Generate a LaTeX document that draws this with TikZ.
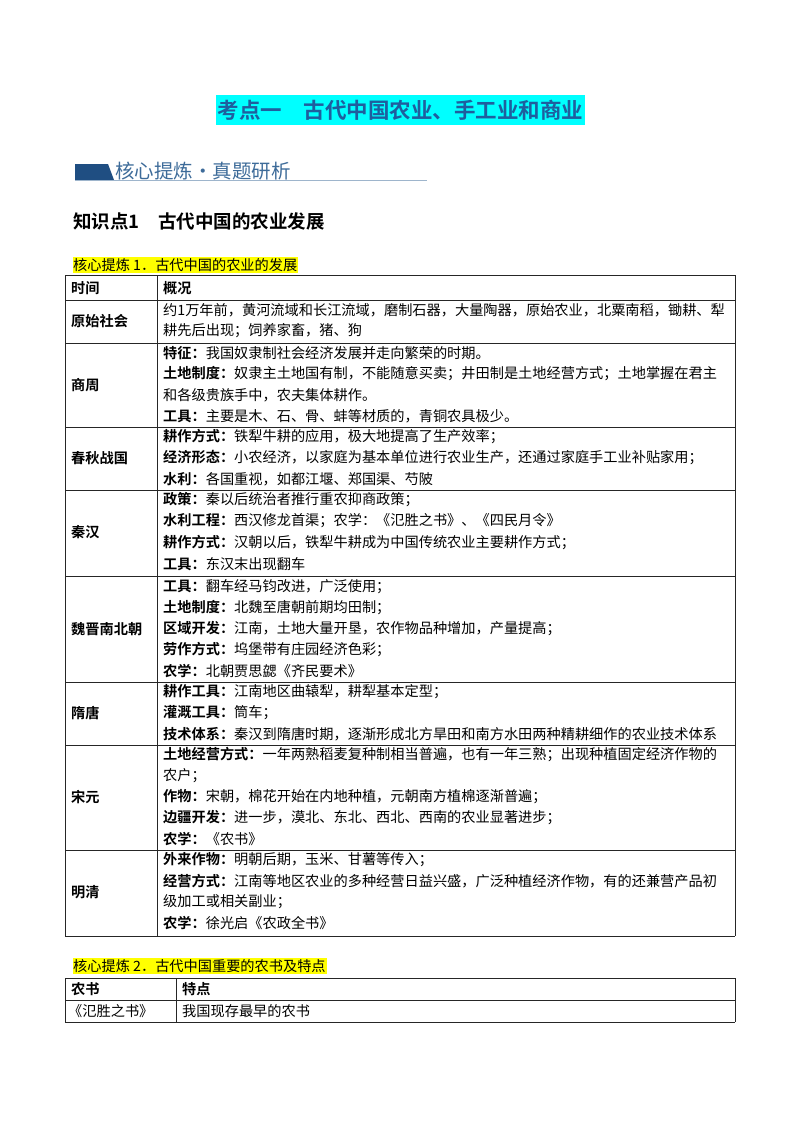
\documentclass[tikz,border=0pt]{standalone}
\usepackage{fontspec}
\setmainfont{Noto Sans CJK SC}[BoldFont={Noto Sans CJK SC Bold}]
\definecolor{ttl}{HTML}{1F5E9E}
\definecolor{hdr}{HTML}{3D6B99}
\definecolor{hbar}{HTML}{1F4E82}
\definecolor{hl}{HTML}{FFFF00}
\definecolor{cy}{HTML}{00FFFF}
\tikzset{txt/.style={anchor=west,inner sep=0pt,font=\fontsize{14.2}{16}\selectfont},
 stxt/.style={anchor=west,inner sep=0pt,font=\fontsize{14.2}{16}\selectfont},
 tl/.style={line width=0.8pt,draw=black!85}}
\newcommand\tl[2]{\node[txt] at (163,-#1) {#2};}
\begin{document}
\begin{tikzpicture}[x=1pt,y=1pt]
\useasboundingbox (0,0) rectangle (800,-1132);
\fill[white] (0,0) rectangle (800,-1132);
% title
\fill[cy] (216,-95) rectangle (585,-125);
\node[anchor=center,inner sep=0pt,text=ttl,font=\fontsize{21.5}{24}\selectfont\bfseries] (title) at (400.5,-110) {考点一\hspace{1em}古代中国农业、手工业和商业};
% section header
\fill[hbar] (75,-164) -- (108,-164) -- (114,-180) -- (75,-180) -- cycle;
\draw[draw=hdr!50,line width=1pt] (75,-180.5) -- (427,-180.5);
\node[anchor=west,inner sep=0pt,text=hdr,font=\fontsize{19.5}{22}\selectfont] (sec) at (115,-171) {核心提炼·真题研析};
\node[anchor=west,inner sep=0pt,font=\fontsize{18.5}{20}\selectfont\bfseries] (kp) at (73,-221) {知识点1\hspace{1em}古代中国的农业发展};
% highlight 1
\fill[hl] (73,-257) rectangle (298,-273);
\node[stxt] (h1) at (73,-265) {核心提炼 1．古代中国的农业的发展};
% table 1
\foreach \y in {275,300,343,427,490,576,682,745,850,936} \draw[tl] (65,-\y) -- (735,-\y);
\draw[tl] (65,-275) -- (65,-936); \draw[tl] (735,-275) -- (735,-936); \draw[tl] (157,-275) -- (157,-936);
\node[txt] at (71,-288) {\textbf{时间}}; \node[txt] at (163,-288) {\textbf{概况}};
\node[txt] at (71,-321) {\textbf{原始社会}};
\tl{310}{约1万年前，黄河流域和长江流域，磨制石器，大量陶器，原始农业，北粟南稻，锄耕、犁}
\tl{331}{耕先后出现；饲养家畜，猪、狗}
\node[txt] at (71,-385) {\textbf{商周}};
\tl{353}{\textbf{特征：}我国奴隶制社会经济发展并走向繁荣的时期。}
\tl{374}{\textbf{土地制度：}奴隶主土地国有制，不能随意买卖；井田制是土地经营方式；土地掌握在君主}
\tl{395}{和各级贵族手中，农夫集体耕作。}
\tl{416}{\textbf{工具：}主要是木、石、骨、蚌等材质的，青铜农具极少。}
\node[txt] at (71,-458) {\textbf{春秋战国}};
\tl{437}{\textbf{耕作方式：}铁犁牛耕的应用，极大地提高了生产效率；}
\tl{458}{\textbf{经济形态：}小农经济，以家庭为基本单位进行农业生产，还通过家庭手工业补贴家用；}
\tl{479}{\textbf{水利：}各国重视，如都江堰、郑国渠、芍陂}
\node[txt] at (71,-532) {\textbf{秦汉}};
\tl{500}{\textbf{政策：}秦以后统治者推行重农抑商政策；}
\tl{521}{\textbf{水利工程：}西汉修龙首渠；农学：《氾胜之书》、《四民月令》}
\tl{543}{\textbf{耕作方式：}汉朝以后，铁犁牛耕成为中国传统农业主要耕作方式；}
\tl{564}{\textbf{工具：}东汉末出现翻车}
\node[txt] at (71,-629) {\textbf{魏晋南北朝}};
\tl{587}{\textbf{工具：}翻车经马钧改进，广泛使用；}
\tl{608}{\textbf{土地制度：}北魏至唐朝前期均田制；}
\tl{629}{\textbf{区域开发：}江南，土地大量开垦，农作物品种增加，产量提高；}
\tl{650}{\textbf{劳作方式：}坞堡带有庄园经济色彩；}
\tl{671}{\textbf{农学：}北朝贾思勰《齐民要术》}
\node[txt] at (71,-713) {\textbf{隋唐}};
\tl{692}{\textbf{耕作工具：}江南地区曲辕犁，耕犁基本定型；}
\tl{713}{\textbf{灌溉工具：}筒车；}
\tl{734}{\textbf{技术体系：}秦汉到隋唐时期，逐渐形成北方旱田和南方水田两种精耕细作的农业技术体系}
\node[txt] at (71,-797) {\textbf{宋元}};
\tl{755}{\textbf{土地经营方式：}一年两熟稻麦复种制相当普遍，也有一年三熟；出现种植固定经济作物的}
\tl{776}{农户；}
\tl{797}{\textbf{作物：}宋朝，棉花开始在内地种植，元朝南方植棉逐渐普遍；}
\tl{818}{\textbf{边疆开发：}进一步，漠北、东北、西北、西南的农业显著进步；}
\tl{839}{\textbf{农学：}《农书》}
\node[txt] at (71,-892) {\textbf{明清}};
\tl{860}{\textbf{外来作物：}明朝后期，玉米、甘薯等传入；}
\tl{881}{\textbf{经营方式：}江南等地区农业的多种经营日益兴盛，广泛种植经济作物，有的还兼营产品初}
\tl{902}{级加工或相关副业；}
\tl{923}{\textbf{农学：}徐光启《农政全书》}
% highlight 2
\fill[hl] (73,-958) rectangle (327,-974);
\node[stxt] (h2) at (73,-966) {核心提炼 2．古代中国重要的农书及特点};
\foreach \y in {978,1000,1022} \draw[tl] (65,-\y) -- (735,-\y);
\draw[tl] (65,-978) -- (65,-1022); \draw[tl] (735,-978) -- (735,-1022); \draw[tl] (176,-978) -- (176,-1022);
\node[txt] at (71,-989) {\textbf{农书}}; \node[txt] at (182,-989) {\textbf{特点}};
\node[txt] at (68,-1011) {《氾胜之书》}; \node[txt] at (182,-1011) {我国现存最早的农书};
\end{tikzpicture}
\end{document}
